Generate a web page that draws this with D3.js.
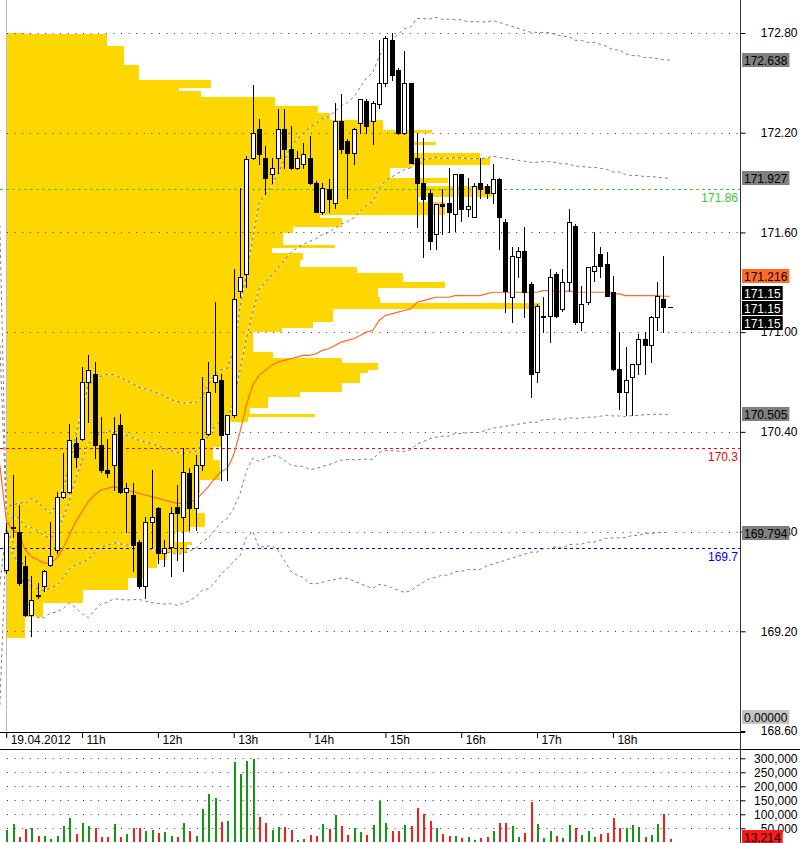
<!DOCTYPE html>
<html><head><meta charset="utf-8">
<script src="https://cdn.jsdelivr.net/npm/d3@7"></script>
<style>
html,body{margin:0;padding:0;background:#fff;}
svg{display:block;font-family:"Liberation Sans",Arial,sans-serif;}
</style></head><body>
<svg id="chart" width="800" height="843"></svg>
<script>
// ---------- DATA (5-minute candles, 19.04.2012 from 10:00) ----------
const openP = [169.57,169.82,169.80,169.59,169.30,169.42,169.47,169.60,169.69,170.01,170.04,170.33,170.36,170.70,170.75,170.32,170.17,170.20,170.44,170.04,170.02,169.74,169.47,169.86,169.94,169.67,169.71,169.95,169.89,170.15,169.94,170.20,170.39,170.70,170.71,170.39,170.50,171.25,171.35,172.05,172.22,172.05,171.95,172.05,172.22,172.10,171.99,172.01,172.05,171.90,171.72,171.86,171.78,172.27,172.15,172.08,172.26,172.39,172.27,172.37,172.50,172.76,172.58,172.20,172.50,172.05,171.90,171.84,171.59,171.77,171.78,171.71,171.95,171.74,171.69,171.90,171.88,171.84,171.92,171.66,171.21,171.45,171.49,171.29,170.76,171.09,171.10,171.35,171.14,171.30,171.64,171.06,171.18,171.37,171.47,171.41,171.24,170.78,170.64,170.73,170.81,170.96,170.92,171.09,171.20,171.15];
const highP = [169.85,170.14,169.96,169.65,169.53,169.49,169.57,169.86,170.04,170.27,170.45,170.37,170.79,170.86,170.82,170.49,170.36,170.49,170.51,170.09,170.09,169.75,169.89,170.17,169.95,169.75,169.95,170.08,170.30,170.18,170.26,170.73,170.82,171.18,170.75,170.50,171.38,171.87,172.06,172.49,172.28,172.12,172.05,172.34,172.34,172.24,172.09,172.14,172.18,171.91,171.90,171.92,172.38,172.43,172.16,172.23,172.40,172.40,172.39,172.76,172.78,172.80,172.59,172.69,172.50,172.20,172.17,171.86,171.77,171.86,171.99,171.95,171.95,171.93,171.90,172.05,171.89,172.01,171.93,171.68,171.51,171.51,171.63,171.30,171.17,171.21,171.38,171.36,171.38,171.74,171.65,171.28,171.39,171.60,171.51,171.48,171.34,171.00,170.91,170.81,170.99,171.00,171.10,171.30,171.46,171.15];
const lowP = [169.55,169.77,169.48,169.29,169.17,169.40,169.44,169.59,169.67,170.00,170.03,170.19,170.35,170.46,170.24,170.16,170.13,170.05,170.03,169.80,169.56,169.46,169.40,169.71,169.61,169.59,169.53,169.63,169.56,169.81,169.81,170.17,170.38,170.64,170.11,170.11,170.49,171.21,171.27,172.04,172.01,171.83,171.90,171.96,171.99,171.98,171.98,171.99,171.89,171.72,171.71,171.72,171.75,172.08,171.81,172.01,172.20,172.20,172.13,172.35,172.48,172.52,172.19,172.19,172.02,171.63,171.45,171.50,171.50,171.59,171.60,171.61,171.67,171.70,171.69,171.81,171.81,171.78,171.50,171.12,171.06,171.33,171.09,170.61,170.70,171.00,170.94,171.09,171.13,171.25,171.05,171.01,171.17,171.31,171.33,171.22,170.77,170.54,170.50,170.50,170.75,170.75,170.82,171.01,171.00,171.15];
const closeP = [169.79,169.83,169.49,169.30,169.39,169.41,169.56,169.65,170.01,170.04,170.35,170.25,170.70,170.77,170.32,170.17,170.15,170.39,170.04,170.06,169.72,169.47,169.86,169.89,169.67,169.70,169.91,169.91,170.16,169.94,170.20,170.36,170.64,170.74,170.38,170.50,171.20,171.33,172.04,172.20,172.07,171.93,171.99,172.22,172.10,171.99,172.05,172.07,171.90,171.72,171.87,171.80,172.27,172.10,172.08,172.22,172.40,172.24,172.38,172.50,172.77,172.55,172.20,172.50,172.02,171.90,171.80,171.55,171.77,171.76,171.72,171.95,171.74,171.76,171.88,171.86,171.84,171.92,171.69,171.25,171.46,171.49,171.24,170.75,171.16,171.10,171.33,171.10,171.30,171.66,171.06,171.17,171.39,171.40,171.40,171.22,170.78,170.64,170.71,170.81,170.96,170.92,171.09,171.22,171.15,171.15];
// volume in thousands
const volumeK = [44,65,20,48,50,24,23,12,24,58,87,30,69,58,51,20,20,65,20,30,51,51,40,44,35,37,23,20,69,40,23,119,173,158,73,76,287,243,290,296,90,69,44,54,54,44,8,12,26,23,65,48,98,58,26,51,37,26,62,149,69,40,40,62,58,124,101,76,51,30,23,23,15,19,8,15,19,40,69,69,58,19,33,144,65,15,40,23,15,62,51,26,40,19,30,33,87,51,51,62,55,19,26,65,101,13.214];
// VWAP and its standard deviation; first value is the previous bar (09:55)
const vwapVals = [170.20,169.87,169.81,169.79,169.69,169.65,169.63,169.61,169.61,169.64,169.70,169.78,169.86,169.92,169.98,170.02,170.05,170.06,170.07,170.06,170.05,170.04,170.03,170.02,170.01,170.00,169.99,169.98,169.97,169.97,169.98,169.99,170.03,170.07,170.12,170.16,170.18,170.26,170.40,170.56,170.68,170.74,170.77,170.80,170.82,170.83,170.84,170.85,170.86,170.86,170.87,170.89,170.90,170.92,170.94,170.95,170.96,170.98,171.00,171.01,171.07,171.10,171.11,171.12,171.13,171.14,171.18,171.19,171.20,171.21,171.21,171.21,171.22,171.22,171.22,171.22,171.22,171.23,171.24,171.24,171.24,171.24,171.24,171.24,171.24,171.24,171.25,171.25,171.25,171.24,171.25,171.24,171.24,171.24,171.24,171.24,171.24,171.23,171.23,171.22,171.22,171.22,171.22,171.22,171.22,171.216,171.216];
const sigmaVals = [0.722,0.048,0.072,0.093,0.138,0.174,0.174,0.165,0.150,0.162,0.181,0.205,0.259,0.307,0.349,0.346,0.343,0.343,0.337,0.334,0.331,0.325,0.319,0.319,0.319,0.316,0.313,0.307,0.307,0.301,0.298,0.292,0.292,0.307,0.313,0.307,0.301,0.319,0.373,0.397,0.439,0.517,0.530,0.542,0.566,0.602,0.638,0.656,0.668,0.686,0.692,0.698,0.698,0.704,0.710,0.716,0.728,0.746,0.764,0.776,0.794,0.812,0.824,0.836,0.848,0.848,0.854,0.848,0.842,0.842,0.836,0.836,0.830,0.830,0.824,0.824,0.824,0.818,0.818,0.812,0.806,0.800,0.794,0.788,0.782,0.782,0.776,0.776,0.770,0.770,0.764,0.758,0.758,0.752,0.752,0.746,0.740,0.734,0.734,0.728,0.722,0.722,0.716,0.716,0.713,0.711,0.711];
// volume profile: price bin boundaries (descending) and volume per bin
const profileLevels = [172.803,172.794,172.719,172.608,172.517,172.469,172.451,172.415,172.361,172.319,172.277,172.216,172.198,172.144,172.126,172.078,172.048,172.006,171.988,171.964,171.928,171.898,171.880,171.813,171.783,171.705,171.687,171.633,171.597,171.525,171.507,171.476,171.435,171.392,171.356,171.302,171.266,171.212,171.176,171.139,171.061,171.025,171.001,170.881,170.845,170.815,170.773,170.755,170.694,170.640,170.610,170.544,170.508,170.490,170.460,170.399,170.309,170.231,170.111,170.032,169.912,169.828,169.798,169.738,169.719,169.671,169.629,169.581,169.521,169.449,169.371,169.286,169.160];
const profileVolume = [19,101,118,133,205,173,195,269,312,324,377,426,406,430,406,474,484,407,384,384,442,414,486,411,439,314,336,287,277,329,266,297,294,351,397,439,372,374,534,327,307,276,247,267,336,372,362,354,336,294,262,244,309,242,224,216,207,214,194,191,199,184,169,186,181,161,151,137,122,77,37,19];
const priceTicks = [172.8,172.2,171.6,171.0,170.4,169.8,169.2,168.6];
const volumeTicks = [300000,250000,200000,150000,100000,50000];
const hourTicks = [10,11,12,13,14,15,16,17,18];
const hourLabels = ["19.04.2012","11h","12h","13h","14h","15h","16h","17h","18h"];
const levelValues = [171.86,170.3,169.7];
const levelLabels = ["171.86","170.3","169.7"];
const oscillatorValue = 0;

// ---------- STYLES ----------
const levelColors = ["#33cc33","#ff0000","#0000ff"];
const GOLD = "#ffd700", ORANGE = "#ff6a28";

// ---------- SCALES ----------
const svg = d3.select("#chart");
const t0 = new Date(2012,3,19,10,0);
const times = openP.map((_,i)=>d3.timeMinute.offset(t0,5*i));
const indTimes = vwapVals.map((_,i)=>d3.timeMinute.offset(t0,5*(i-1)));
const x = d3.scaleTime().domain([t0, d3.timeMinute.offset(t0,5*116)]).range([6.2,739.3]);
const y = d3.scaleLinear().domain([168.6,172.8]).range([731,33]);
const yv = d3.scaleLinear().domain([0,300000]).range([842.3,758.3]);
const xp = d3.scaleLinear().domain([0,500]).range([6,506]);

const candles = times.map((t,i)=>({t,o:openP[i],h:highP[i],l:lowP[i],c:closeP[i],v:volumeK[i]*1000}));

// ---------- VOLUME PROFILE ----------
svg.append("g").attr("shape-rendering","crispEdges")
  .selectAll("rect").data(profileVolume).join("rect")
  .attr("x",xp(0))
  .attr("y",(d,i)=>y(profileLevels[i]))
  .attr("width",d=>xp(d)-xp(0))
  .attr("height",(d,i)=>y(profileLevels[i+1])-y(profileLevels[i]))
  .attr("fill",GOLD);

// left session separator
svg.append("line").attr("x1",6.5).attr("x2",6.5).attr("y1",0).attr("y2",732)
  .attr("stroke","#bdbdbd");

// ---------- GRID ----------
const grid = svg.append("g");
priceTicks.filter(t=>t>168.7).forEach(t=>{
  const yy = Math.round(y(t))+0.5;
  grid.append("line").attr("x1",7).attr("x2",740).attr("y1",yy).attr("y2",yy)
    .attr("stroke","#333").attr("stroke-dasharray","1,6.6");
});
volumeTicks.forEach(t=>{
  const yy = Math.round(yv(t))+0.5;
  grid.append("line").attr("x1",7).attr("x2",740).attr("y1",yy).attr("y2",yy)
    .attr("stroke","#333").attr("stroke-dasharray","1,6.6");
});

// ---------- LEVEL LINES ----------
levelValues.forEach((v,k)=>{
  const yy = Math.round(y(v))+0.5;
  svg.append("line").attr("x1",0).attr("x2",740).attr("y1",yy).attr("y2",yy)
    .attr("stroke",levelColors[k]).attr("stroke-dasharray","3,3");
  svg.append("text").attr("x",738).attr("y",yy+12.5).attr("text-anchor","end")
    .attr("font-size",12).attr("fill",levelColors[k]).text(levelLabels[k]);
});

// ---------- VWAP BANDS ----------
[2,1,-1,-2].forEach(k=>{
  const line = d3.line().x((d,i)=>x(indTimes[i])).y((d,i)=>y(vwapVals[i]+k*sigmaVals[i]));
  svg.append("path").datum(vwapVals).attr("d",line).attr("fill","none")
    .attr("stroke","#ffffff").attr("stroke-width",1).attr("stroke-dasharray","3,3").attr("stroke-dashoffset",3);
  svg.append("path").datum(vwapVals).attr("d",line).attr("fill","none")
    .attr("stroke","#808080").attr("stroke-width",1).attr("stroke-dasharray","3,3");
});
// VWAP line
svg.append("path").datum(vwapVals)
  .attr("d",d3.line().x((d,i)=>x(indTimes[i])).y(d=>y(d)))
  .attr("fill","none").attr("stroke",ORANGE).attr("stroke-width",1.2);

// ---------- CANDLES ----------
const cg = svg.append("g");
candles.forEach(d=>{
  const px = Math.round(x(d.t));
  cg.append("line").attr("x1",px+0.5).attr("x2",px+0.5)
    .attr("y1",Math.round(y(d.h))).attr("y2",Math.round(y(d.l))+1).attr("stroke","#000");
  const top = Math.round(y(Math.max(d.o,d.c))), bot = Math.round(y(Math.min(d.o,d.c)));
  if (bot-top < 1) {
    cg.append("line").attr("x1",px-2).attr("x2",px+3).attr("y1",top+0.5).attr("y2",top+0.5).attr("stroke","#000");
  } else {
    cg.append("rect").attr("x",px-1.5).attr("y",top+0.5).attr("width",4).attr("height",bot-top)
      .attr("fill",d.c>d.o?"#fff":"#000").attr("stroke","#000");
  }
});

// ---------- VOLUME BARS ----------
svg.append("g").attr("shape-rendering","crispEdges")
  .selectAll("rect").data(candles).join("rect")
  .attr("x",d=>Math.round(x(d.t)))
  .attr("y",d=>yv(d.v)).attr("width",2).attr("height",d=>yv(0)-yv(d.v))
  .attr("fill",d=>d.c>d.o?"#119911":"#ff1a1a");

// ---------- AXES ----------
const ax = svg.append("g").attr("font-size",12).attr("fill","#000");
ax.append("line").attr("x1",0).attr("x2",745).attr("y1",732.5).attr("y2",732.5).attr("stroke","#000");
ax.append("line").attr("x1",0).attr("x2",800).attr("y1",749.5).attr("y2",749.5).attr("stroke","#000");
ax.append("line").attr("x1",740.5).attr("x2",740.5).attr("y1",0).attr("y2",843).attr("stroke","#333");

const yAxis = d3.axisRight(y).tickValues(priceTicks).tickSize(5).tickFormat(d3.format(".2f"));
const gy = svg.append("g").attr("transform","translate(740.5,0)").call(yAxis);
const vAxis = d3.axisRight(yv).tickValues(volumeTicks).tickSize(5).tickFormat(d3.format(","));
const gvy = svg.append("g").attr("transform","translate(740.5,0)").call(vAxis);
[gy,gvy].forEach(g=>{
  g.select(".domain").remove();
  g.selectAll(".tick line").attr("stroke","#000");
  g.selectAll(".tick text").attr("x",57).attr("text-anchor","end")
    .attr("font-size",12).attr("font-family","Liberation Sans, Arial, sans-serif").attr("fill","#000");
});

const hourDates = hourTicks.map(h=>new Date(2012,3,19,h,0));
const xAxis = d3.axisBottom(x).tickValues(hourDates).tickSize(6)
  .tickFormat((d,i)=>hourLabels[i]);
const gx = svg.append("g").attr("transform","translate(0,732)").call(xAxis);
gx.select(".domain").remove();
gx.selectAll(".tick line").attr("stroke","#000");
gx.selectAll(".tick text").attr("text-anchor","start").attr("x",4).attr("y",3).attr("dy","0.71em")
  .attr("font-size",12).attr("font-family","Liberation Sans, Arial, sans-serif").attr("fill","#000");

// ---------- VALUE BOXES ----------
const lastV = vwapVals[vwapVals.length-1], lastS = sigmaVals[sigmaVals.length-1];
const lastC = closeP[closeP.length-1];
const f3 = d3.format(".3f"), f2 = d3.format(".2f");
const boxes = [
  {yy:y(lastV+2*lastS), t:f3(lastV+2*lastS), fill:"#808080", col:"#000"},
  {yy:y(lastV+lastS), t:f3(lastV+lastS), fill:"#808080", col:"#000"},
  {yy:y(lastV)-20, t:f3(lastV), fill:ORANGE, col:"#000"},
  {yy:y(lastC)-14, t:f2(lastC), fill:"#000", col:"#fff"},
  {yy:y(lastC)+1, t:f2(lastC), fill:"#000", col:"#fff"},
  {yy:y(lastC)+16, t:f2(lastC), fill:"#000", col:"#fff"},
  {yy:y(lastV-lastS), t:f3(lastV-lastS), fill:"#808080", col:"#000"},
  {yy:y(lastV-2*lastS), t:f3(lastV-2*lastS), fill:"#808080", col:"#000"},
  {yy:717, t:d3.format(".5f")(oscillatorValue), fill:"#c4c4c4", col:"#000"},
  {yy:yv(0)-5, t:d3.format(",")(Math.round(volumeK[volumeK.length-1]*1000)), fill:"#ff1a1a", col:"#000"}
];
boxes.forEach(b=>{
  const g = svg.append("g");
  const txt = g.append("text").attr("x",744).attr("y",Math.round(b.yy)+4.5)
    .attr("font-size",12).attr("fill",b.col).text(b.t);
  const w = txt.node().getComputedTextLength();
  g.insert("rect","text").attr("x",742).attr("y",Math.round(b.yy)-7)
    .attr("width",w+4).attr("height",14).attr("fill",b.fill);
});
</script>
</body></html>
